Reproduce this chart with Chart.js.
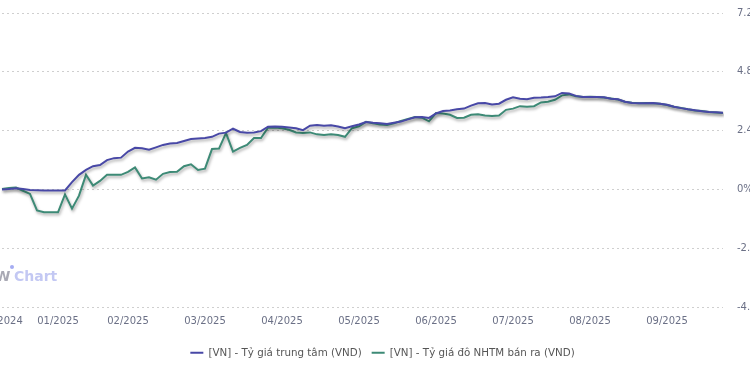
<!DOCTYPE html>
<html>
<head>
<meta charset="utf-8">
<script src="https://cdn.jsdelivr.net/npm/chart.js@4.4.0/dist/chart.umd.min.js"></script>
<style>
  html, body { margin: 0; padding: 0; overflow: hidden; background: #fff; }
  #wrap { position: absolute; left: 0; top: 0; width: 763px; height: 375px; }
</style>
</head>
<body>
<div id="wrap"><canvas id="chart"></canvas></div>
<script>
// thang hien thi tren truc x, va so diem cua moi thang
var thang = ['12/2024', '01/2025', '02/2025', '03/2025', '04/2025', '05/2025', '06/2025', '07/2025', '08/2025', '09/2025'];
var soDiem = [8, 10, 11, 11, 11, 11, 11, 11, 11, 9];

// % thay doi - Ty gia trung tam
var tyGiaTrungTam = [
  0, 0.02, 0.05, 0.02, -0.02, -0.03, -0.04, -0.04,
  -0.04, -0.04, 0.3, 0.6, 0.8, 0.95, 1.0, 1.2, 1.28, 1.3,
  1.55, 1.7, 1.68, 1.62, 1.72, 1.82, 1.88, 1.9, 1.98, 2.06, 2.08,
  2.1, 2.15, 2.28, 2.32, 2.48, 2.35, 2.32, 2.33, 2.38, 2.56, 2.57,
  2.56, 2.53, 2.5, 2.42, 2.6, 2.63, 2.6, 2.62, 2.57, 2.5, 2.58,
  2.65, 2.75, 2.72, 2.7, 2.67, 2.72, 2.77, 2.86, 2.95, 2.96, 2.92,
  3.1, 3.2, 3.22, 3.27, 3.3, 3.42, 3.52, 3.53, 3.47, 3.5, 3.66,
  3.76, 3.7, 3.68, 3.74, 3.75, 3.77, 3.8, 3.94, 3.92, 3.82, 3.77,
  3.77, 3.77, 3.76, 3.7, 3.68, 3.58, 3.53, 3.52, 3.52, 3.53, 3.5,
  3.46, 3.38, 3.32, 3.27, 3.23, 3.19, 3.16, 3.15, 3.13
];

// % thay doi - Ty gia do NHTM ban ra
var tyGiaNHTM = [
  0.02, 0.06, 0.08, -0.05, -0.18, -0.85, -0.93, -0.93,
  -0.93, -0.2, -0.78, -0.25, 0.6, 0.16, 0.35, 0.6, 0.6, 0.6,
  0.72, 0.9, 0.45, 0.5, 0.4, 0.64, 0.71, 0.72, 0.95, 1.03, 0.8,
  0.85, 1.65, 1.67, 2.3, 1.55, 1.7, 1.82, 2.1, 2.1, 2.52, 2.53,
  2.5, 2.44, 2.33, 2.31, 2.33, 2.25, 2.22, 2.25, 2.22, 2.15, 2.5,
  2.58, 2.76, 2.7, 2.65, 2.63, 2.7, 2.8, 2.88, 2.96, 2.93, 2.78,
  3.12, 3.1, 3.05, 2.92, 2.93, 3.05, 3.07, 3.02, 3.0, 3.02, 3.25,
  3.3, 3.4, 3.38, 3.4, 3.55, 3.58, 3.66, 3.84, 3.88, 3.8, 3.77,
  3.78, 3.77, 3.75, 3.71, 3.67, 3.58, 3.54, 3.52, 3.53, 3.52, 3.5,
  3.45, 3.38, 3.33, 3.27, 3.22, 3.2, 3.16, 3.14, 3.12
];

var yTicks = [-4.8, -2.4, 0, 2.4, 4.8, 7.2];

// nhan truc x: chi ghi ten thang o diem dau moi thang
var nhan = [];
for (var m = 0; m < thang.length; m++) {
  for (var k = 0; k < soDiem[m]; k++) {
    nhan.push(k === 0 ? thang[m] : '');
  }
}

// bong do duoi duong
var bongDuong = {
  id: 'bongDuong',
  beforeDatasetDraw: function(chart) {
    var ctx = chart.ctx;
    ctx.save();
    ctx.shadowColor = 'rgba(0,0,0,0.35)';
    ctx.shadowBlur = 3;
    ctx.shadowOffsetX = 1;
    ctx.shadowOffsetY = 2;
  },
  afterDatasetDraw: function(chart) {
    chart.ctx.restore();
  }
};

// logo WiChart mo
var logo = {
  id: 'logo',
  beforeDatasetsDraw: function(chart) {
    var ctx = chart.ctx;
    ctx.save();
    ctx.font = 'bold 14px "DejaVu Sans"';
    ctx.textBaseline = 'alphabetic';
    ctx.fillStyle = '#a9a9b4';
    ctx.fillText('W', -5, 281);
    ctx.fillStyle = '#a5acf2';
    ctx.beginPath();
    ctx.arc(12, 267, 2, 0, Math.PI * 2);
    ctx.fill();
    ctx.fillStyle = '#c3c8f3';
    ctx.fillText('Chart', 14, 281);
    ctx.restore();
  }
};

var fontChu = { family: '"DejaVu Sans"', size: 10 };

new Chart(document.getElementById('chart'), {
  type: 'line',
  data: {
    labels: nhan,
    datasets: [{
      label: '[VN] - Tỷ giá trung tâm (VND)',
      data: tyGiaTrungTam,
      borderColor: '#4848a6',
      backgroundColor: '#4848a6',
      borderWidth: 2,
      pointRadius: 0,
      tension: 0
    }, {
      label: '[VN] - Tỷ giá đô NHTM bán ra (VND)',
      data: tyGiaNHTM,
      borderColor: '#3d8a76',
      backgroundColor: '#3d8a76',
      borderWidth: 2,
      pointRadius: 0,
      tension: 0
    }]
  },
  options: {
    responsive: true,
    maintainAspectRatio: false,
    animation: false,
    layout: { padding: { top: 13, left: 2, right: 0, bottom: 7 } },
    plugins: {
      legend: {
        position: 'bottom',
        labels: {
          font: { family: '"DejaVu Sans"', size: 10.3 },
          color: '#555',
          usePointStyle: true,
          pointStyle: 'line',
          pointStyleWidth: 13,
          boxHeight: 10,
          padding: 10
        }
      },
      tooltip: { enabled: false }
    },
    scales: {
      x: {
        grid: { display: false },
        border: { display: false },
        ticks: {
          autoSkip: false,
          maxRotation: 0,
          padding: 0,
          color: '#6b7086',
          font: fontChu
        },
        afterFit: function(scale) {
          scale.paddingLeft = 0;
          scale.paddingRight = 0;
          scale.height = 30.5;
        }
      },
      y: {
        position: 'right',
        min: yTicks[0],
        max: yTicks[yTicks.length - 1],
        border: { display: false, dash: [2, 3] },
        grid: {
          color: '#cfcfcf',
          drawTicks: false,
          lineWidth: 1
        },
        ticks: {
          stepSize: 2.4,
          padding: 14,
          color: '#6b7086',
          font: fontChu,
          callback: function(v) { return Number(v.toFixed(1)) + '%'; }
        },
        afterFit: function(scale) {
          scale.width = 40;
          scale.paddingTop = 0;
          scale.paddingBottom = 0;
        }
      }
    }
  },
  plugins: [bongDuong, logo]
});
</script>
</body>
</html>
